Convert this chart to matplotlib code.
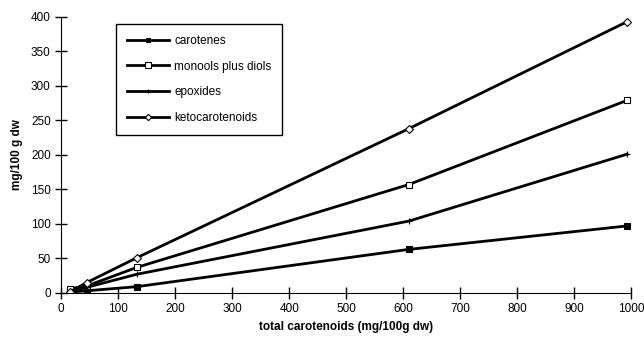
import matplotlib.pyplot as plt

plt.rcParams['font.family'] = ['Liberation Sans', 'DejaVu Sans']

total = [15, 45, 133, 610, 993]
carotenes = [1, 3, 9, 63, 97]
monools = [6, 10, 37, 157, 279]
epoxides = [2, 8, 27, 104, 201]
keto = [1, 15, 51, 238, 393]

fig = plt.figure(figsize=(6.44, 3.37), dpi=100)
ax = fig.add_axes([0.095, 0.131, 0.885, 0.819])

style = dict(color='black', linewidth=2, markeredgecolor='black', markeredgewidth=0.8)
ax.plot(total, carotenes, marker='s', markersize=4, markerfacecolor='black', label='carotenes', **style)
ax.plot(total, monools, marker='s', markersize=5, markerfacecolor='white', label='monools plus diols', **style)
ax.plot(total, epoxides, marker='+', markersize=4, label='epoxides', **style)
ax.plot(total, keto, marker='D', markersize=4, markerfacecolor='white', label='ketocarotenoids', **style)

ax.set_xlim(0, 1000)
ax.set_ylim(0, 400)
ax.set_xticks(range(0, 1001, 100))
ax.set_yticks(range(0, 401, 50))
ax.spines['top'].set_visible(False)
ax.spines['right'].set_visible(False)
ax.tick_params(direction='inout', length=8, width=1, labelsize=8.5)
ax.set_xlabel('total carotenoids (mg/100g dw)', fontsize=8.5, fontweight='bold')
ax.set_ylabel('mg/100 g dw', fontsize=8.5, fontweight='bold', labelpad=6)

leg = ax.legend(loc='upper left', bbox_to_anchor=(0.0965, 0.975), borderaxespad=0,
                fontsize=8.5, frameon=True, fancybox=False, edgecolor='black',
                framealpha=1, handlelength=3.5, handletextpad=0.45,
                labelspacing=1.15, borderpad=0.95, markerscale=0.8)
leg.get_frame().set_linewidth(1)

fig.savefig('out.png', dpi=100)
